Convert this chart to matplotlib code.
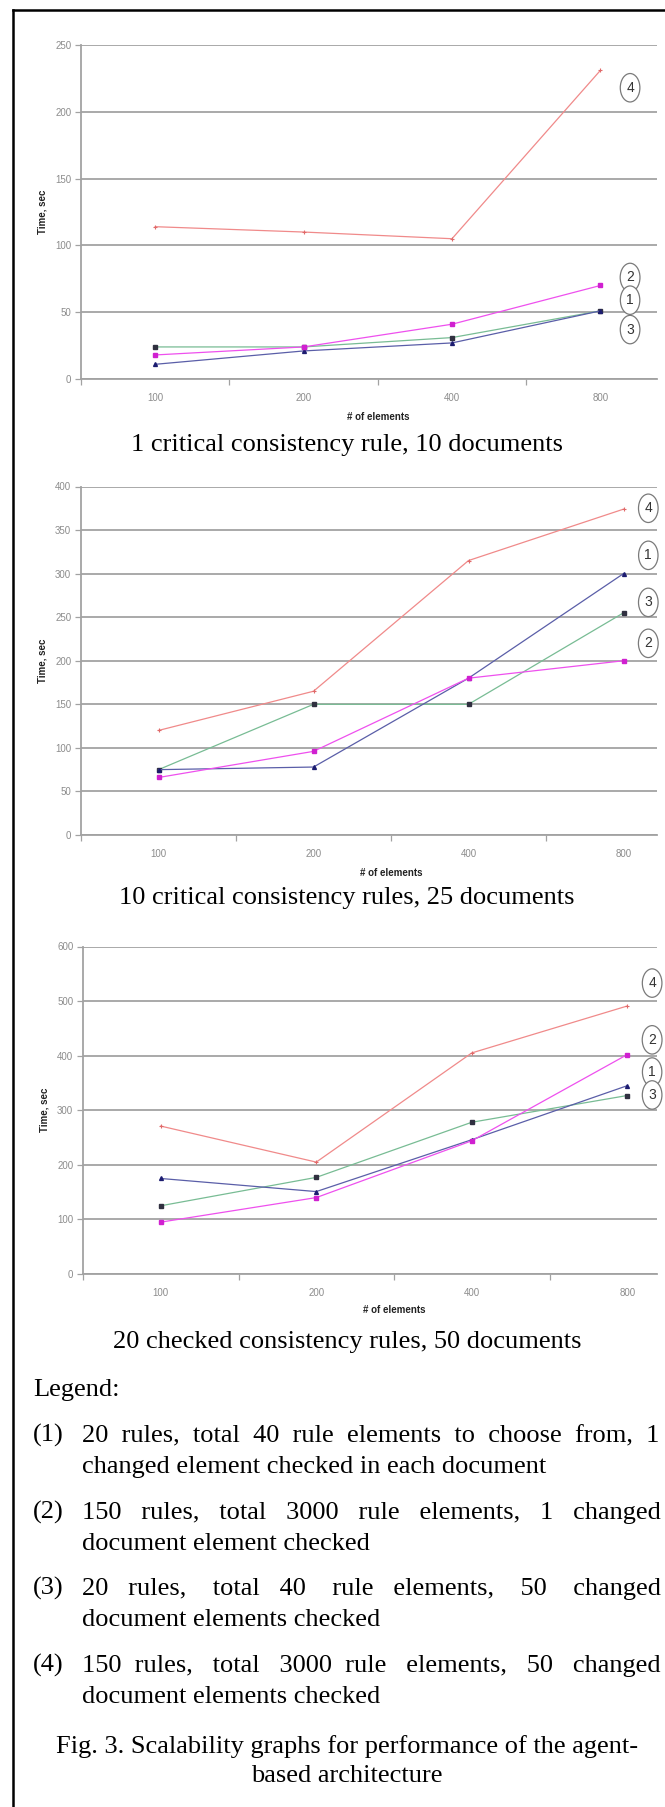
import numpy as np
import matplotlib.pyplot as plt
from matplotlib.lines import Line2D

# values
x_labels = ['100', '200', '400', '800']

c1_s1 = [11, 21, 27, 51]
c1_s2 = [18, 24, 41, 70]
c1_s3 = [24, 24, 31, 51]
c1_s4 = [114, 110, 105, 231]

c2_s1 = [75, 78, 180, 300]
c2_s2 = [66, 96, 180, 200]
c2_s3 = [75, 150, 150, 255]
c2_s4 = [120, 165, 315, 374]

c3_s1 = [175, 151, 246, 345]
c3_s2 = [95, 140, 244, 402]
c3_s3 = [125, 177, 278, 327]
c3_s4 = [271, 205, 405, 491]

# circled series numbers at the right end: (number, y value)
c1_tags = [('4', 218), ('2', 76), ('1', 59), ('3', 37)]
c2_tags = [('4', 375), ('1', 321), ('3', 267), ('2', 220)]
c3_tags = [('4', 533), ('2', 429), ('1', 370), ('3', 328)]

captions = ['1 critical consistency rule, 10 documents',
            '10 critical consistency rules, 25 documents',
            '20 checked consistency rules, 50 documents']

legend_items = [
    ('(1)', '20 rules, total 40 rule elements to choose from, 1',
     'changed element checked in each document'),
    ('(2)', '150 rules, total 3000 rule elements, 1 changed',
     'document element checked'),
    ('(3)', '20 rules, total 40 rule elements, 50 changed',
     'document elements checked'),
    ('(4)', '150 rules, total 3000 rule elements, 50 changed',
     'document elements checked'),
]
fig_caption = ['Fig. 3. Scalability graphs for performance of the agent-',
               'based architecture']

W, H = 665, 1807
SERIF = 'Liberation Serif'
SANS = 'Liberation Sans'
GRID = '#a2a2a2'

fig = plt.figure(figsize=(W / 100, H / 100), dpi=100)


def add_ax(left, top, right, bottom):
    return fig.add_axes([left / W, 1 - bottom / H, (right - left) / W, (bottom - top) / H])


def draw_chart(ax, s1, s2, s3, s4, ymax, ystep, xright, tags, tagx):
    x = np.arange(len(x_labels))
    ax.plot(x, s4, color='#f08a8a', lw=0.9, marker='+', ms=3, mew=0.8, mec='#e06a6a', zorder=3)
    ax.plot(x, s3, color='#78bc94', lw=0.9, marker='s', ms=3, mfc='#303040', mec='#303040', zorder=4)
    ax.plot(x, s1, color='#5a5ea8', lw=0.9, marker='^', ms=2.8, mfc='#1c1c70', mec='#1c1c70', zorder=4)
    ax.plot(x, s2, color='#ee50ee', lw=0.9, marker='s', ms=2.8, mfc='#d020d0', mec='#d020d0', zorder=5)

    ax.set_xlim(-0.5, xright)
    ax.set_ylim(0, ymax)
    ax.set_yticks(np.arange(0, ymax + 1, ystep))
    ax.set_xticks([-0.5, 0.5, 1.5, 2.5])
    ax.set_xticklabels([])
    ax.set_xticks(x, minor=True)
    ax.set_xticklabels(x_labels, minor=True)
    ax.tick_params(axis='x', which='major', length=4, width=0.9, color=GRID, direction='out')
    ax.tick_params(axis='x', which='minor', length=0, pad=10, labelsize=7, labelcolor='#8c8c8c')
    ax.tick_params(axis='y', length=4, width=0.9, color=GRID, pad=3, labelsize=7, labelcolor='#8c8c8c')
    for lab in ax.get_xticklabels(minor=True) + ax.get_yticklabels():
        lab.set_fontfamily(SANS)

    ax.grid(axis='y', color=GRID, lw=1.3)
    ax.set_axisbelow(True)
    for s in ['top', 'right']:
        ax.spines[s].set_visible(False)
    for s in ['left', 'bottom']:
        ax.spines[s].set_color(GRID)
        ax.spines[s].set_linewidth(1.3)

    ax.set_ylabel('Time, sec', fontsize=7, fontweight='bold', family=SANS, color='#222222')
    ax.yaxis.set_label_coords(-0.058, 0.5)
    ax.set_xlabel('# of elements', fontsize=7, fontweight='bold', family=SANS, color='#222222')

    for num, yv in tags:
        ax.text(tagx, yv, num, ha='center', va='center', fontsize=10, family=SANS,
                color='#333333', clip_on=False, zorder=6,
                bbox=dict(boxstyle='ellipse,pad=0.22', fc='white', ec='#7a7a7a', lw=0.9))


ax1 = add_ax(81, 45, 657, 379)
draw_chart(ax1, c1_s1, c1_s2, c1_s3, c1_s4, 250, 50, -0.5 + 576 / 148.4, c1_tags, 3.2)
ax1.xaxis.set_label_coords(2.0 / (576 / 148.4), -0.1)

ax2 = add_ax(81, 486.5, 657, 835)
draw_chart(ax2, c2_s1, c2_s2, c2_s3, c2_s4, 400, 50, -0.5 + 576 / 155.0, c2_tags, 3.16)
ax2.xaxis.set_label_coords(2.0 / (576 / 155.0), -0.095)

ax3 = add_ax(83, 946.5, 657, 1274)
draw_chart(ax3, c3_s1, c3_s2, c3_s3, c3_s4, 600, 100, -0.5 + 574 / 155.5, c3_tags, 3.16)
ax3.xaxis.set_label_coords(2.0 / (574 / 155.5), -0.095)

FS = 19


def ftext(x, y, s, **kw):
    return fig.text(x / W, 1 - y / H, s, family=SERIF, fontsize=FS, va='baseline', **kw)


# chart captions
for cap, y in zip(captions, [451, 904, 1348]):
    ftext(347, y, cap, ha='center')

ftext(33, 1396, 'Legend:')

renderer = fig.canvas.get_renderer()


def text_width(s):
    t = ftext(0, 0, s)
    w = t.get_window_extent(renderer).width
    t.remove()
    return w


def justify(line, x0, x1, y):
    # spread the line to the full column width with extra spaces, one text object
    words = line.split(' ')
    n = len(words) - 1
    sp = text_width('a a') - text_width('aa')
    extra = (x1 - x0) - text_width(line)
    total = n + int(round(extra / sp))
    base, rem = divmod(total, n)
    s = words[0]
    for i, w in enumerate(words[1:]):
        k = base + ((i + 1) * rem // n - i * rem // n)
        s += ' ' * k + w
    ftext(x0, y, s)


ys = [1442, 1519, 1595, 1672]
for (tag, l1, l2), y in zip(legend_items, ys):
    ftext(33, y, tag)
    justify(l1, 81.5, 661, y)
    ftext(81.5, y + 31, l2)

ftext(347, 1753, fig_caption[0], ha='center')
ftext(347, 1782, fig_caption[1], ha='center')

# page frame (open at the cropped right and bottom)
fig.add_artist(Line2D([13 / W, 1], [1 - 9.5 / H] * 2, color='black', lw=1.8))
fig.add_artist(Line2D([13 / W] * 2, [0, 1 - 9.5 / H], color='black', lw=1.8))

fig.savefig('out.png', dpi=100)
